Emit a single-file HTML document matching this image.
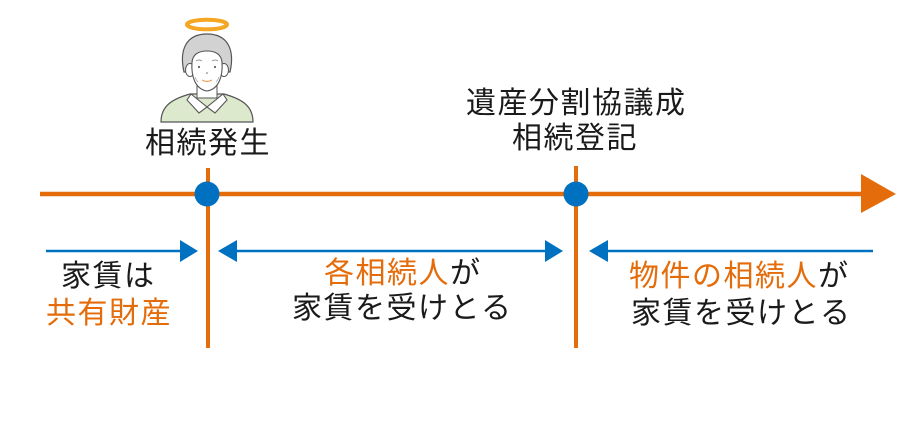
<!DOCTYPE html>
<html><head><meta charset="utf-8">
<style>
html,body{margin:0;padding:0;background:#fff;}
#c{position:relative;width:920px;height:426px;overflow:hidden;background:#fff;}
.t{position:absolute;white-space:nowrap;font-family:"Liberation Sans","Noto Sans CJK JP",sans-serif;font-size:30px;line-height:30px;letter-spacing:1.5px;color:#1a1a1a;}
.o{color:#e46c0a;}
svg{position:absolute;left:0;top:0;}
</style></head><body>
<div id="c">
<svg width="920" height="426" viewBox="0 0 920 426">
  <line x1="40" y1="194" x2="864" y2="194" stroke="#e46c0a" stroke-width="4.5"/>
  <polygon points="861,174 896,194 861,213" fill="#e46c0a"/>
  <line x1="208" y1="168" x2="208" y2="348" stroke="#e46c0a" stroke-width="4"/>
  <line x1="576" y1="166" x2="576" y2="348" stroke="#e46c0a" stroke-width="4"/>
  <circle cx="207" cy="194" r="12.5" fill="#0070c0"/>
  <circle cx="576" cy="194" r="12.5" fill="#0070c0"/>
  <line x1="46" y1="251" x2="182" y2="251" stroke="#0070c0" stroke-width="2.5"/>
  <polygon points="180,240 198,251 180,262" fill="#0070c0"/>
  <line x1="235" y1="251" x2="547" y2="251" stroke="#0070c0" stroke-width="2.5"/>
  <polygon points="237,240 218,251 237,262" fill="#0070c0"/>
  <polygon points="545,240 563,251 545,262" fill="#0070c0"/>
  <line x1="606" y1="251" x2="873" y2="251" stroke="#0070c0" stroke-width="2.5"/>
  <polygon points="608,240 589,251 608,262" fill="#0070c0"/>

  <ellipse cx="207" cy="24.5" rx="20" ry="4.8" fill="none" stroke="#f5a623" stroke-width="4"/>
  <path d="M161,122 C161,106 172,99 190,94 L224,94 C242,99 253,106 253,122 Z" fill="#dde9cd" stroke="#555" stroke-width="1.2"/>
  <rect x="197" y="82" width="20" height="16" fill="#fff" stroke="#555" stroke-width="1"/>
  <path d="M191,94 L207,107 L199,113 L187,100 Z" fill="#fff" stroke="#555" stroke-width="1.1"/>
  <path d="M223,94 L207,107 L215,113 L227,100 Z" fill="#fff" stroke="#555" stroke-width="1.1"/>
  <path d="M184,72 C179,50 186,34 207,34 C228,34 235,50 230,72 Z" fill="#d2d2d2" stroke="#555" stroke-width="1.2"/>
  <ellipse cx="190" cy="70" rx="4.5" ry="6.5" fill="#fff" stroke="#555" stroke-width="1"/>
  <ellipse cx="224" cy="70" rx="4.5" ry="6.5" fill="#fff" stroke="#555" stroke-width="1"/>
  <path d="M192,62 C193,54 199,51 207,51 C215,51 221,54 222,62 C223,76 219,89 207,91 C195,89 191,76 192,62 Z" fill="#fff" stroke="#555" stroke-width="1.1"/>
  <path d="M196,61 q3,-2 6,0" fill="none" stroke="#999" stroke-width="1"/>
  <path d="M212,61 q3,-2 6,0" fill="none" stroke="#999" stroke-width="1"/>
  <circle cx="199" cy="67" r="1" fill="#444"/>
  <circle cx="215" cy="67" r="1" fill="#444"/>
  <circle cx="207" cy="73" r="0.8" fill="#666"/>
  <path d="M202,80 q5,3 10,0" fill="none" stroke="#f0a060" stroke-width="1.3"/>
  <path d="M195,77 q1,3 3,5" fill="none" stroke="#aaa" stroke-width="0.8"/>
  <path d="M219,77 q-1,3 -3,5" fill="none" stroke="#aaa" stroke-width="0.8"/>
</svg>

<div class="t" style="left:145px;top:129px;">相続発生</div>
<div class="t" style="left:466px;top:89px;">遺産分割協議成</div>
<div class="t" style="left:512px;top:124px;">相続登記</div>

<div class="t" style="left:61px;top:262px;">家賃は</div>
<div class="t o" style="left:46px;top:299px;">共有財産</div>

<div class="t" style="left:324px;top:259px;"><span class="o">各相続人</span>が</div>
<div class="t" style="left:292px;top:294px;">家賃を受けとる</div>

<div class="t" style="left:629px;top:262px;"><span class="o">物件の相続人</span>が</div>
<div class="t" style="left:631px;top:299px;">家賃を受けとる</div>
</div>
</body></html>
